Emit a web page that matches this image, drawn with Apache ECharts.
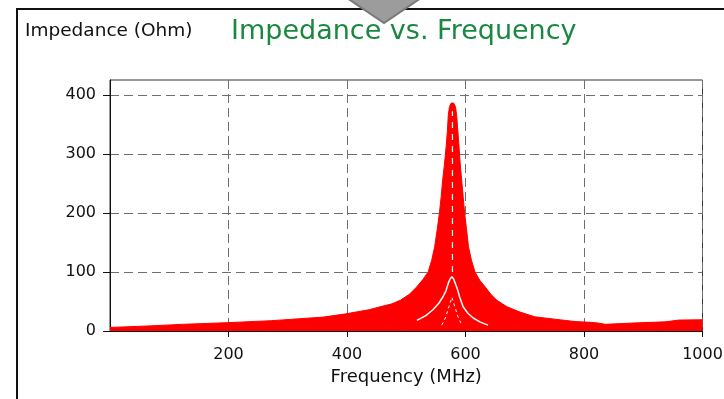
<!DOCTYPE html>
<html>
<head>
<meta charset="utf-8">
<script src="https://cdn.jsdelivr.net/npm/echarts@6/dist/echarts.min.js"></script>
<style>
html,body{margin:0;padding:0;background:#fff;}
#chart{width:724px;height:399px;}
</style>
</head>
<body>
<div id="chart"></div>
<script>
// Upper envelope of the family of impedance curves (MHz, Ohm)
var envFreq = [0, 64, 127, 196, 273, 360, 398, 437, 456, 476, 490, 505, 518, 528, 537, 543, 548, 552, 556, 559, 561.5, 564, 566, 568, 569.5, 571, 573, 576, 580, 583, 585, 587, 588.5, 590, 591.5, 593.5, 596, 598.5, 602, 605, 610, 616, 624, 633, 643, 653, 670, 692, 717, 751, 785, 810, 820, 822, 836, 838, 894, 937, 960, 1000];
var envImp  = [6, 8.5, 11.5, 14, 17.5, 23.5, 29, 36, 41, 46, 52, 62, 75, 87, 100, 120, 143, 170, 200, 228, 256, 278, 298, 320, 340, 366, 380, 386, 386, 380, 366, 340, 320, 298, 278, 256, 228, 200, 170, 143, 120, 100, 86, 75, 62, 52, 41, 32, 24, 20, 16, 14.7, 14, 11.3, 11.3, 14, 14, 15.5, 18.5, 19];
// Gap between curve groups (white)
var gapFreq = [518, 533, 545, 555, 562, 567, 571, 574, 577, 580, 583, 586, 590, 596, 604, 613, 625, 638];
var gapImp  = [18, 26, 36, 47, 58, 68, 81, 88, 92, 88, 80, 72, 58, 41, 30, 22, 15, 10];
var innerFreq = [560, 566, 571, 577, 583, 588, 594];
var innerImp  = [10, 22, 38, 57, 38, 22, 10];
var centerFreq = [578, 578];
var centerImp  = [100, 372];
var xTicks = [200, 400, 600, 800, 1000];
var yTicks = [0, 100, 200, 300, 400];

function pairs(a, b) { return a.map(function (v, i) { return [v, b[i]]; }); }
function plain(v) { return String(v); }

var chart = echarts.init(document.getElementById('chart'), null, {renderer: 'canvas'});
var FONT = 'DejaVu Sans';
chart.setOption({
  animation: false,
  backgroundColor: '#ffffff',
  title: [
    {text: 'Impedance vs. Frequency', left: 231, top: 18, padding: 0,
     textStyle: {color: '#1a8840', fontFamily: FONT, fontSize: 27, fontWeight: 'normal'}},
    {text: 'Impedance (Ohm)', left: 25, top: 22, padding: 0,
     textStyle: {color: '#111', fontFamily: FONT, fontSize: 18.5, fontWeight: 'normal'}}
  ],
  grid: {left: 110, right: 21.5, top: 80, bottom: 68, show: true, borderColor: '#333', borderWidth: 1,
         backgroundColor: 'transparent', containLabel: false, outerBoundsMode: 'none'},
  xAxis: {
    type: 'value', min: 0, max: 1000, interval: 200,
    name: 'Frequency (MHz)', nameLocation: 'middle', nameGap: 33,
    nameTextStyle: {color: '#111', fontFamily: FONT, fontSize: 18},
    axisLine: {lineStyle: {color: '#111', width: 1}},
    axisTick: {show: true, length: 6, customValues: xTicks, lineStyle: {color: '#111'}},
    axisLabel: {color: '#111', fontFamily: FONT, fontSize: 16, margin: 16, customValues: xTicks, formatter: plain, hideOverlap: false},
    splitLine: {show: true, lineStyle: {color: '#6e6e6e', type: [9, 5], width: 1}}
  },
  yAxis: {
    type: 'value', min: 0, max: 425, interval: 100,
    axisLine: {show: true, lineStyle: {color: '#111', width: 1}},
    axisTick: {show: true, length: 7, customValues: yTicks, lineStyle: {color: '#111'}},
    axisLabel: {color: '#111', fontFamily: FONT, fontSize: 16, margin: 14, customValues: yTicks, formatter: plain},
    splitLine: {show: true, lineStyle: {color: '#6e6e6e', type: [9, 5], width: 1}}
  },
  series: [
    {type: 'line', data: pairs(envFreq, envImp), symbol: 'none', silent: true,
     lineStyle: {color: '#ff0000', width: 1}, areaStyle: {color: '#ff0000', opacity: 1}},
    {type: 'line', data: pairs(gapFreq, gapImp), symbol: 'none', silent: true,
     lineStyle: {color: '#ffffff', width: 1.5}},
    {type: 'line', data: pairs(innerFreq, innerImp), symbol: 'none', silent: true,
     lineStyle: {color: '#ffffff', width: 1, type: [3, 3]}},
    {type: 'line', data: pairs(centerFreq, centerImp), symbol: 'none', silent: true,
     lineStyle: {color: '#ffffff', width: 1.2, type: [6, 6]}}
  ],
  graphic: [
    {type: 'polyline', shape: {points: [[17, 399], [17, 9], [724, 9]]}, style: {stroke: '#111', lineWidth: 2, fill: null}, z: 10},
    {type: 'polygon', shape: {points: [[347, -2], [421, -2], [384, 23]]}, style: {fill: '#9c9c9c', stroke: '#7a7a7a', lineWidth: 2}, z: 11}
  ]
});
</script>
</body>
</html>
